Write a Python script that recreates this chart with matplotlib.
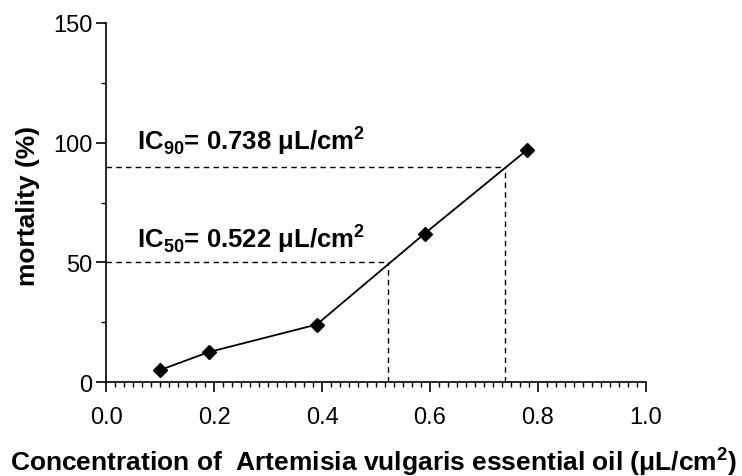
'''
    mortality vs concentration chart with IC50 / IC90 guide lines
'''
import matplotlib
matplotlib.use('Agg')
import matplotlib.pyplot as plt
from matplotlib.ticker import MultipleLocator, AutoMinorLocator

# data
concentration = [0.10, 0.19, 0.39, 0.59, 0.78]
mortality = [5, 12.5, 24, 62, 97]
ic_levels = [50, 90]
ic_values = [0.522, 0.738]
ic_labels = [r'IC$_{\mathbf{50}}$= 0.522 μL/cm$^{\mathbf{2}}$',
             r'IC$_{\mathbf{90}}$= 0.738 μL/cm$^{\mathbf{2}}$']
ic_label_y = [56.5, 97.5]

plt.rcParams['font.family'] = ['Liberation Sans', 'DejaVu Sans']
plt.rcParams['mathtext.fontset'] = 'custom'
plt.rcParams['mathtext.rm'] = 'Liberation Sans'
plt.rcParams['mathtext.bf'] = 'Liberation Sans:bold'


def chart():
    ''' draw and save the chart '''
    fig = plt.figure(figsize=(7.42, 4.77), dpi=100)
    ax = fig.add_axes([0.1429, 0.197, 0.7277, 0.7527])

    # dashed guide lines
    for level, value in zip(ic_levels, ic_values):
        ax.plot([0, value], [level, level], color='black', lw=1.0,
                linestyle=(0, (4, 3)))
        ax.plot([value, value], [0, level], color='black', lw=1.0,
                linestyle=(0, (4, 3)))

    ax.plot(concentration, mortality, color='black', lw=1.3,
            marker='D', markersize=7.5, clip_on=False, zorder=3)

    for text, ypos in zip(ic_labels, ic_label_y):
        ax.text(0.057, ypos, text, fontsize=18.5, fontweight='bold',
                ha='left', va='baseline')

    ax.set_xlim(0, 1.0)
    ax.set_ylim(0, 150)
    ax.xaxis.set_major_locator(MultipleLocator(0.2))
    ax.xaxis.set_minor_locator(AutoMinorLocator(12))
    ax.yaxis.set_major_locator(MultipleLocator(50))
    ax.yaxis.set_minor_locator(MultipleLocator(25))
    ax.xaxis.set_major_formatter(plt.FormatStrFormatter('%.1f'))

    for side in ['top', 'right']:
        ax.spines[side].set_visible(False)
    for side in ['left', 'bottom']:
        ax.spines[side].set_linewidth(1.2)

    ax.tick_params(axis='x', which='major', length=7.5, width=1.2,
                   labelsize=17, pad=9.5)
    ax.tick_params(axis='x', which='minor', length=3.7, width=1.0)
    ax.tick_params(axis='y', which='major', length=7.5, width=1.2,
                   labelsize=17, pad=2.5)
    ax.tick_params(axis='y', which='minor', length=3.7, width=1.0)

    fig.text(0.038, 0.569, 'mortality (%)', rotation=90, fontsize=19,
             fontweight='bold', ha='center', va='center')
    fig.text(0.504, 0.033,
             r'Concentration of  Artemisia vulgaris essential oil '
             r'(μL/cm$^{\mathbf{2}}$)',
             fontsize=19, fontweight='bold', ha='center', va='center')

    fig.savefig('out.png', dpi=100)


if __name__ == '__main__':
    chart()
